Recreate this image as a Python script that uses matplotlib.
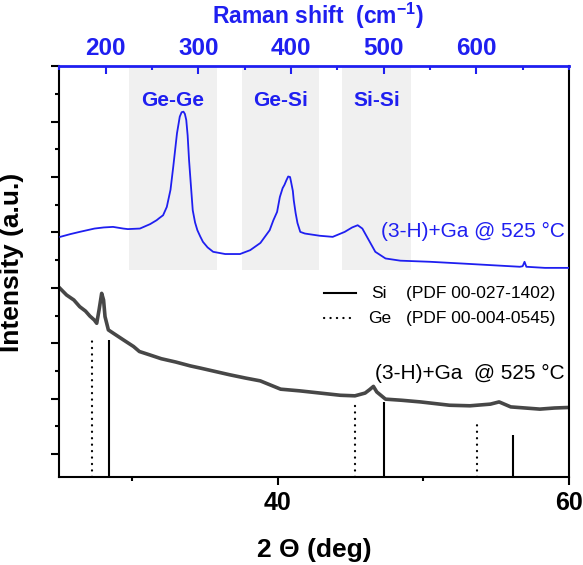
import matplotlib
matplotlib.use('Agg')
import matplotlib.pyplot as plt
from matplotlib.ticker import MultipleLocator, FixedLocator

plt.rcParams['font.family'] = ['Liberation Sans', 'DejaVu Sans']
plt.rcParams['font.weight'] = 'bold'
plt.rcParams['mathtext.fontset'] = 'custom'
plt.rcParams['mathtext.rm'] = 'Liberation Sans'
plt.rcParams['mathtext.bf'] = 'Liberation Sans:bold'

BLUE = '#1f1ff0'

# Raman spectrum (top axis)
raman_shift = [151, 162, 172, 188, 198, 208, 219, 224, 237, 248, 255, 258, 262, 266, 270,
               273, 277, 280, 282, 284, 285.5, 287, 288.5, 290, 292, 294, 296.5, 299, 302,
               305, 310, 316, 329, 345, 356, 367, 377, 381, 385, 388, 391, 393, 395, 397,
               399, 400, 402, 403, 405, 407, 410, 415, 431, 445, 458, 466, 472, 477,
               483, 491, 502, 518, 550, 583, 615, 647, 650, 652, 654, 674, 700]
raman_int = [3.92, 3.97, 4.01, 4.07, 4.09, 4.10, 4.07, 4.06, 4.07, 4.15, 4.22, 4.26, 4.31,
             4.46, 4.77, 5.19, 5.79, 6.09, 6.17, 6.18, 6.14, 6.03, 5.75, 5.31, 4.85, 4.40,
             4.18, 4.04, 3.93, 3.83, 3.73, 3.65, 3.61, 3.61, 3.68, 3.81, 4.04, 4.22, 4.37,
             4.64, 4.80, 4.86, 4.94, 5.01, 5.00, 4.92, 4.75, 4.58, 4.35, 4.17, 4.01, 3.98,
             3.94, 3.92, 4.01, 4.09, 4.13, 4.07, 3.89, 3.65, 3.53, 3.49, 3.47, 3.44, 3.41,
             3.38, 3.39, 3.47, 3.38, 3.36, 3.36]

# XRD pattern (bottom axis)
xrd_2theta = [25.05, 25.5, 26.0, 26.4, 26.8, 27.1, 27.4, 27.57, 27.73, 27.91, 28.04, 28.14,
              28.37, 28.71, 29.4, 30.1, 30.5, 31.2, 32.0, 33.0, 34.0, 34.7, 35.7, 36.7,
              37.8, 38.8, 40.2, 41.5, 42.9, 44.3, 45.3, 46.0, 46.3, 46.57, 46.8, 47.4,
              48.5, 49.8, 50.8, 51.8, 53.2, 54.6, 55.2, 56.0, 57.0, 58.0, 59.0, 60.0]
xrd_int = [2.99, 2.87, 2.78, 2.66, 2.58, 2.49, 2.42, 2.36, 2.60, 2.90, 2.78, 2.48,
           2.24, 2.18, 2.06, 1.94, 1.85, 1.79, 1.72, 1.66, 1.59, 1.55, 1.49, 1.43,
           1.37, 1.32, 1.17, 1.14, 1.10, 1.06, 1.05, 1.10, 1.16, 1.22, 1.12, 0.99,
           0.97, 0.94, 0.91, 0.88, 0.87, 0.90, 0.94, 0.85, 0.83, 0.81, 0.83, 0.84]

# reference patterns
si_pos = [28.44, 47.30, 56.12]
si_height = [2.06, 0.94, 0.34]
ge_pos = [27.28, 45.30, 53.68]
ge_height = [2.07, 0.975, 0.565]

bands = ['Ge-Ge', 'Ge-Si', 'Si-Si']
band_lo = [225, 347, 455]
band_hi = [320, 430, 530]
raman_ticks = [200, 300, 400, 500, 600]

YMIN, YMAX = -0.41, 7.01

fig = plt.figure(figsize=(5.83, 5.65), dpi=100)
ax = fig.add_axes([0.1017, 0.1563, 0.8743, 0.7274])
ax.set_xlim(25, 60)
ax.set_ylim(YMIN, YMAX)

axt = ax.twiny()
axt.set_xlim(150, 700)

# shaded Raman band regions
for lo, hi, name in zip(band_lo, band_hi, bands):
    axt.axvspan(lo, hi, ymin=(3.32 - YMIN) / (YMAX - YMIN), ymax=1,
                color='#f0f0f0', lw=0, zorder=0)
    axt.text((lo + hi) / 2, 6.39, name, ha='center', va='center',
             color=BLUE, fontsize=15, fontweight='bold')

axt.plot(raman_shift, raman_int, color=BLUE, lw=1.3)
axt.text(0.992, 4.01, '(3-H)+Ga @ 525 \u00b0C', transform=axt.get_yaxis_transform(),
         ha='right', va='center', color=BLUE, fontsize=15, fontweight='normal')

ax.plot(xrd_2theta, xrd_int, color='#474747', lw=2.6, solid_joinstyle='round')
ax.vlines(si_pos, YMIN, si_height, colors='k', lw=1.5)
ge = ax.vlines(ge_pos, YMIN, ge_height, colors='k', lw=1.6, linestyles=[(0, (0.1, 2.8))])
ge.set_capstyle('round')

# legend drawn by hand
ax.plot([0.52, 0.583], [0.446, 0.446], color='k', lw=1.5, transform=ax.transAxes)
ax.plot([0.52, 0.583], [0.385, 0.385], color='k', lw=1.6, ls=(0, (0.1, 2.8)),
        dash_capstyle='round', transform=ax.transAxes)
ax.text(0.612, 0.446, 'Si', transform=ax.transAxes, fontsize=12.5,
        fontweight='normal', va='center')
ax.text(0.606, 0.385, 'Ge', transform=ax.transAxes, fontsize=12.5,
        fontweight='normal', va='center')
ax.text(0.68, 0.446, '(PDF 00-027-1402)', transform=ax.transAxes, fontsize=12.5,
        fontweight='normal', va='center')
ax.text(0.68, 0.385, '(PDF 00-004-0545)', transform=ax.transAxes, fontsize=12.5,
        fontweight='normal', va='center')

ax.text(0.992, 1.46, '(3-H)+Ga  @ 525 \u00b0C', transform=ax.get_yaxis_transform(),
        ha='right', va='center', color='k', fontsize=15, fontweight='normal')

# axes styling
for s in ['left', 'bottom', 'right']:
    ax.spines[s].set_linewidth(1.5)
    axt.spines[s].set_visible(False)
ax.spines['top'].set_visible(False)
axt.spines['top'].set_color(BLUE)
axt.spines['top'].set_linewidth(2)

ax.xaxis.set_major_locator(MultipleLocator(20))
ax.xaxis.set_minor_locator(MultipleLocator(10))
ax.yaxis.set_major_locator(MultipleLocator(1))
ax.yaxis.set_minor_locator(MultipleLocator(0.5))
ax.tick_params(which='both', direction='out', width=1.5, top=False, right=False,
               labelleft=False)
ax.tick_params(which='major', length=6)
ax.tick_params(which='minor', length=3)
ax.tick_params(axis='x', labelsize=18, pad=4)

axt.xaxis.set_major_locator(FixedLocator(raman_ticks))
axt.xaxis.set_minor_locator(MultipleLocator(50))
axt.tick_params(axis='x', which='both', direction='in', width=1.5, colors=BLUE,
                labelsize=17.5, pad=4)
axt.tick_params(axis='x', which='major', length=6)
axt.tick_params(axis='x', which='minor', length=3)
axt.tick_params(axis='y', left=False, right=False, labelleft=False, labelright=False)

fig.text(314 / 583, 1 - 550 / 565, '2 \u0398 (deg)', ha='center', va='center',
         fontsize=19, fontweight='bold')
fig.text(12 / 583, 1 - 262 / 565, 'Intensity (a.u.)', ha='center', va='center',
         rotation=90, fontsize=19, fontweight='bold')
fig.text(318 / 583, 1 - 24 / 565, r'Raman shift  (cm$^{\mathbf{-1}}$)', ha='center',
         va='baseline', fontsize=16.5, fontweight='bold', color=BLUE)

fig.savefig('out.png', dpi=100)
